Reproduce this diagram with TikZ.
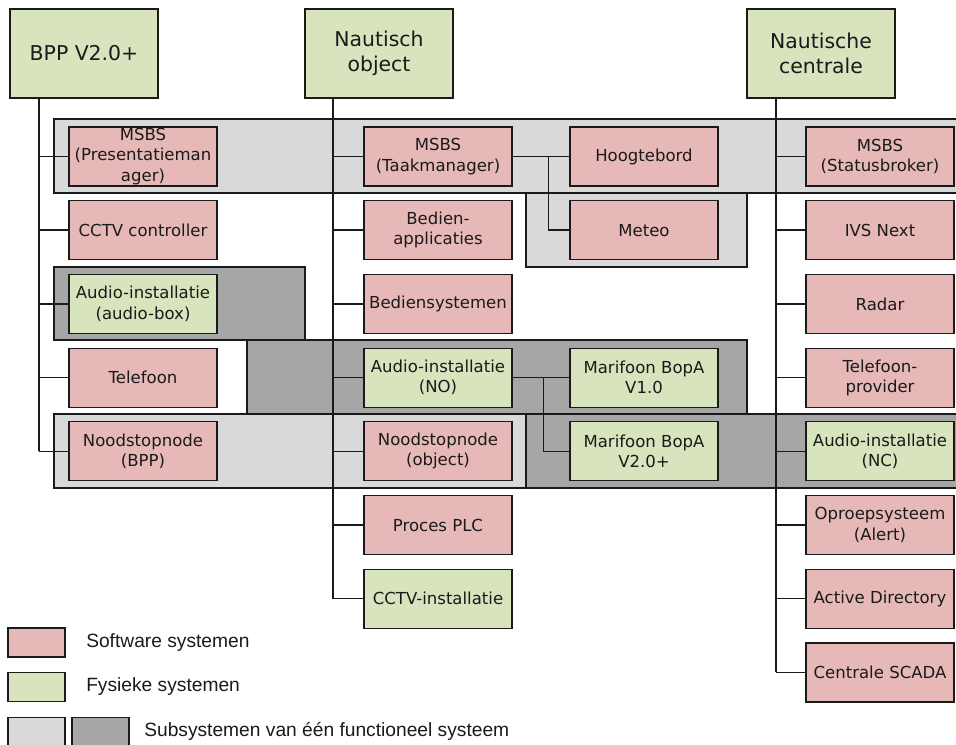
\documentclass[tikz,border=0pt]{standalone}
\usepackage{fontspec}
\setmainfont{DejaVu Sans}
\newfontfamily\legendfont{Liberation Sans}
\usetikzlibrary{calc}
\definecolor{swpink}{HTML}{E6B9B8}
\definecolor{physgreen}{HTML}{D7E4BD}
\definecolor{grplight}{HTML}{D9D9D9}
\definecolor{grpdark}{HTML}{A6A6A6}
\definecolor{ink}{HTML}{1A1A1A}
\begin{document}
\begin{tikzpicture}[x=0.75pt,y=-0.75pt,
  sysbox/.style={draw=ink, line width=0.9pt, minimum width=111pt, minimum height=44.25pt,
    inner sep=0pt, align=center, text=ink, font=\fontsize{12.4}{15.2}\selectfont},
  sw/.style={sysbox, fill=swpink},
  phys/.style={sysbox, fill=physgreen},
  topbox/.style={draw=ink, line width=0.9pt, fill=physgreen, minimum width=111pt,
    minimum height=66.75pt, inner sep=0pt, align=center, text=ink,
    font=\fontsize{15.3}{18.75}\selectfont},
  grp/.style={draw=ink, line width=0.9pt},
  link/.style={draw=ink, line width=1.05pt},
  trunk/.style={draw=ink, line width=1.4pt},
  legbox/.style={draw=ink, line width=0.9pt, minimum width=42.75pt, minimum height=21.75pt, inner sep=0pt},
  legtext/.style={anchor=west, inner sep=0pt, text=ink, font=\legendfont\fontsize{14.4}{17}\selectfont},
]
\useasboundingbox (0,0) rectangle (956,745);

% functional-system groupings (grey backgrounds)
\path[grp, fill=grplight] (526,193) rectangle (747,267);
\path[grp, fill=grplight] (54,119) rectangle (958,193);
\path[grp, fill=grpdark] (54,267) rectangle (305,340);
\path[grp, fill=grpdark] (247,340) rectangle (747,414);
\path[grp, fill=grplight] (54,414) rectangle (526,488);
\path[grp, fill=grpdark] (526,414) rectangle (958,488);

% top-level systems
\node[topbox] (bpp)  at (84,53.5)  {BPP V2.0+};
\node[topbox] (nobj) at (379,53.5) {Nautisch\\object};
\node[topbox] (ncen) at (821,53.5) {Nautische\\centrale};

% BPP column
\node[sw]   (msbsp)  at (143,156.5) {MSBS\\(Presentatieman\\ager)};
\node[sw]   (cctvc)  at (143,230.2) {CCTV controller};
\node[phys] (audbox) at (143,303.9) {Audio-installatie\\(audio-box)};
\node[sw]   (tel)    at (143,377.6) {Telefoon};
\node[sw]   (nsbpp)  at (143,451.3) {Noodstopnode\\(BPP)};

% Nautisch object column
\node[sw]   (msbst)  at (438,156.5) {MSBS\\(Taakmanager)};
\node[sw]   (bedapp) at (438,230.2) {Bedien-\\applicaties};
\node[sw]   (bedsys) at (438,303.9) {Bediensystemen};
\node[phys] (audno)  at (438,377.6) {Audio-installatie\\(NO)};
\node[sw]   (nsobj)  at (438,451.3) {Noodstopnode\\(object)};
\node[sw]   (plc)    at (438,525)   {Proces PLC};
\node[phys] (cctvi)  at (438,598.7) {CCTV-installatie};

% children of Taakmanager and Audio-installatie (NO)
\node[sw]   (hoog)   at (644,156.5) {Hoogtebord};
\node[sw]   (meteo)  at (644,230.2) {Meteo};
\node[phys] (mar1)   at (644,377.6) {Marifoon BopA\\V1.0};
\node[phys] (mar2)   at (644,451.3) {Marifoon BopA\\V2.0+};

% Nautische centrale column
\node[sw]   (msbss)  at (880,156.5) {MSBS\\(Statusbroker)};
\node[sw]   (ivs)    at (880,230.2) {IVS Next};
\node[sw]   (radar)  at (880,303.9) {Radar};
\node[sw]   (telp)   at (880,377.6) {Telefoon-\\provider};
\node[phys] (audnc)  at (880,451.3) {Audio-installatie\\(NC)};
\node[sw]   (oproep) at (880,525)   {Oproepsysteem\\(Alert)};
\node[sw]   (ad)     at (880,598.7) {Active Directory};
\node[sw]   (scada)  at (880,672.4) {Centrale SCADA};

% trunk start points below the top-level boxes
\coordinate (tb) at ($(bpp.south west)+(30,0)$);
\coordinate (tn) at ($(nobj.south west)+(29,0)$);
\coordinate (tc) at ($(ncen.south west)+(30,0)$);

% vertical trunks down to the last subsystem
\draw[trunk] (tb) -- (tb |- nsbpp.west);
\draw[trunk] (tn) -- (tn |- cctvi.west);
\draw[trunk] (tc) -- (tc |- scada.west);

% connectors from each top-level system to its subsystems
\foreach \n in {msbsp,cctvc,audbox,tel,nsbpp}
  \draw[link] (tb) |- (\n.west);
\foreach \n in {msbst,bedapp,bedsys,audno,nsobj,plc,cctvi}
  \draw[link] (tn) |- (\n.west);
\foreach \n in {msbss,ivs,radar,telp,audnc,oproep,ad,scada}
  \draw[link] (tc) |- (\n.west);

% second-level connectors
\coordinate (tj) at ($(msbst.east)+(36,0)$);
\draw[link] (msbst.east) -- (hoog.west);
\draw[link] (msbst.east) -- (tj) |- (meteo.west);
\coordinate (aj) at ($(audno.east)+(31,0)$);
\draw[link] (audno.east) -- (mar1.west);
\draw[link] (audno.east) -- (aj) |- (mar2.west);

% legend
\node[legbox, fill=swpink]    (legsw) at (36.5,642.5) {};
\node[legbox, fill=physgreen] (legph) at (36.5,687)   {};
\node[legbox, fill=grplight]  (leglg) at (36.5,732)   {};
\node[legbox, fill=grpdark]   (legdg) at (100.5,732)  {};
\node[legtext] (txsw) at (86,643)  {Software systemen};
\node[legtext] (txph) at (86,687)  {Fysieke systemen};
\node[legtext] (txgr) at (144,731) {Subsystemen van één functioneel systeem};
\end{tikzpicture}
\end{document}
